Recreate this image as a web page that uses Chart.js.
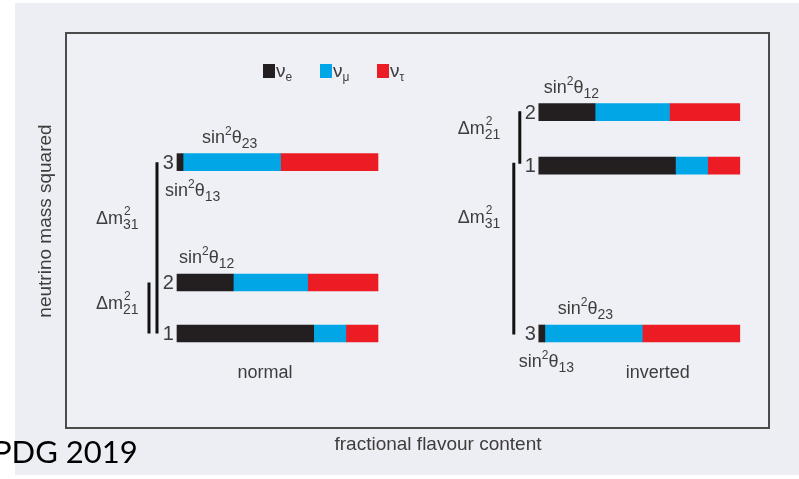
<!DOCTYPE html>
<html>
<head>
<meta charset="utf-8">
<script src="https://cdn.jsdelivr.net/npm/chart.js@4.4.1/dist/chart.umd.min.js"></script>
<style>
  html, body { margin: 0; padding: 0; background: #ffffff; }
  #wrap { width: 799px; height: 479px; }
</style>
</head>
<body>
<div id="wrap"><canvas id="c" width="799" height="479"></canvas></div>
<script>
// flavour content of each mass state (m1, m2, m3)
const flavours = ['e', 'μ', 'τ'];
const nuE   = [0.68, 0.28, 0.03];
const nuMu  = [0.16, 0.37, 0.485];
const nuTau = [0.16, 0.35, 0.485];

// relative mass-squared levels of m1, m2, m3
const normalLevels   = [0, 1, 3.36];
const invertedLevels = [3.29, 4.34, 0];

// x offset of each ordering panel
const panels = ['normal', 'inverted'];
const panelOffsets = [0, 1.8];

const colours = ['#231f20', '#00a6e6', '#ec1c24'];
const FONT = '"Liberation Sans", Arial, sans-serif';
const TEXT = '#3d3d3d';

const fractions = [nuE, nuMu, nuTau];
const levelsFor = [normalLevels, invertedLevels];

const datasets = flavours.map((f, k) => {
  const data = [];
  panels.forEach((p, pi) => {
    for (let i = 0; i < 3; i++) {
      let start = panelOffsets[pi];
      for (let j = 0; j < k; j++) start += fractions[j][i];
      data.push({ x: [start, start + fractions[k][i]], y: levelsFor[pi][i] });
    }
  });
  return {
    label: 'ν' + f,
    data: data,
    backgroundColor: colours[k],
    borderWidth: 0,
    borderSkipped: false,
    barThickness: 17,
    grouped: false
  };
});

function txt(ctx, s, x, y, size, align, family) {
  ctx.font = size + 'px ' + (family || FONT);
  ctx.textAlign = align || 'left';
  ctx.fillText(s, x, y);
  return ctx.measureText(s).width;
}

function sinLabel(ctx, x, y, sub) {
  let w = txt(ctx, 'sin', x, y, 18);
  w += txt(ctx, '2', x + w, y - 8, 12);
  w += txt(ctx, 'θ', x + w, y, 18);
  txt(ctx, sub, x + w, y + 5, 14);
}

function dmLabel(ctx, x, y, sub) {
  const w = txt(ctx, 'Δm', x, y, 18);
  txt(ctx, '2', x + w + 1, y - 9, 12);
  txt(ctx, sub, x + w, y + 5, 14);
}

const decor = {
  id: 'decor',
  beforeDraw(chart) {
    const ctx = chart.ctx, a = chart.chartArea;
    ctx.save();
    ctx.fillStyle = '#ffffff';
    ctx.fillRect(0, 0, chart.width, chart.height);
    ctx.fillStyle = '#edeef3';
    ctx.fillRect(15, 3, chart.width - 15, 472);
    ctx.fillStyle = '#eff0f5';
    ctx.fillRect(a.left, a.top, a.right - a.left, a.bottom - a.top);
    ctx.strokeStyle = '#4b4b4b';
    ctx.lineWidth = 2;
    ctx.strokeRect(a.left, a.top, a.right - a.left, a.bottom - a.top);
    ctx.restore();
  },
  afterDatasetsDraw(chart) {
    const ctx = chart.ctx;
    const xs = chart.scales.x, ys = chart.scales.y;
    ctx.save();
    ctx.fillStyle = TEXT;
    ctx.textBaseline = 'alphabetic';

    panels.forEach((p, pi) => {
      const x0 = xs.getPixelForValue(panelOffsets[pi]);
      const lv = levelsFor[pi].map(v => ys.getPixelForValue(v));

      // state numbers
      ctx.fillStyle = TEXT;
      ctx.textBaseline = 'middle';
      lv.forEach((y, i) => txt(ctx, String(i + 1), x0 - 3, y + 1, 20, 'right'));
      ctx.textBaseline = 'alphabetic';

      // splitting brackets
      ctx.strokeStyle = '#111';
      ctx.lineWidth = 3;
      ctx.beginPath();
      if (pi === 0) {
        ctx.moveTo(x0 - 20, lv[2]); ctx.lineTo(x0 - 20, lv[0]);
        ctx.moveTo(x0 - 28, lv[1]); ctx.lineTo(x0 - 28, lv[0]);
      } else {
        ctx.moveTo(x0 - 19, lv[1] - 1); ctx.lineTo(x0 - 19, lv[0] - 2);
        ctx.moveTo(x0 - 25, lv[0] - 3); ctx.lineTo(x0 - 25, lv[2] + 1);
      }
      ctx.stroke();

      ctx.fillStyle = TEXT;
      if (pi === 0) {
        sinLabel(ctx, x0 + 25, lv[2] - 19, '23');
        sinLabel(ctx, x0 - 12, lv[2] + 34, '13');
        sinLabel(ctx, x0 + 2, lv[1] - 19, '12');
        dmLabel(ctx, x0 - 81, (lv[2] + lv[0]) / 2 - 24, '31');
        dmLabel(ctx, x0 - 81, (lv[1] + lv[0]) / 2 + 1, '21');
        txt(ctx, p, x0 + 88, 378, 18, 'center');
      } else {
        sinLabel(ctx, x0 + 5, lv[1] - 19, '12');
        sinLabel(ctx, x0 + 19, lv[2] - 19, '23');
        sinLabel(ctx, x0 - 20, lv[2] + 34, '13');
        dmLabel(ctx, x0 - 81, (lv[1] + lv[0]) / 2 - 5, '21');
        dmLabel(ctx, x0 - 81, (lv[0] + lv[2]) / 2 - 27, '31');
        txt(ctx, p, x0 + 119, 378, 18, 'center');
      }
    });

    // legend
    const lx = [263, 320, 377];
    flavours.forEach((f, k) => {
      ctx.fillStyle = colours[k];
      ctx.fillRect(lx[k], 64, 12, 14);
      ctx.fillStyle = TEXT;
      const w = txt(ctx, 'ν', lx[k] + 13, 77, 19);
      txt(ctx, f, lx[k] + 13 + w, 81, 12);
    });

    // axis titles
    ctx.fillStyle = TEXT;
    txt(ctx, 'fractional flavour content', 438, 450, 19, 'center');
    ctx.save();
    ctx.translate(51, 221);
    ctx.rotate(-Math.PI / 2);
    txt(ctx, 'neutrino mass squared', 0, 0, 19, 'center');
    ctx.restore();

    ctx.fillStyle = '#000';
    txt(ctx, 'PDG 2019', -7, 463, 31, 'left', 'Lato, "Open Sans", sans-serif');
    ctx.restore();
  }
};

new Chart(document.getElementById('c'), {
  type: 'bar',
  data: { datasets: datasets },
  options: {
    indexAxis: 'y',
    responsive: false,
    animation: false,
    layout: { padding: { left: 66, top: 33, right: 30, bottom: 51 } },
    plugins: { legend: { display: false }, tooltip: { enabled: false } },
    scales: {
      x: { type: 'linear', min: -0.5522, max: 2.9453, display: false },
      y: { type: 'linear', min: -1.853, max: 5.892, offset: false, display: false }
    }
  },
  plugins: [decor]
});
</script>
</body>
</html>
